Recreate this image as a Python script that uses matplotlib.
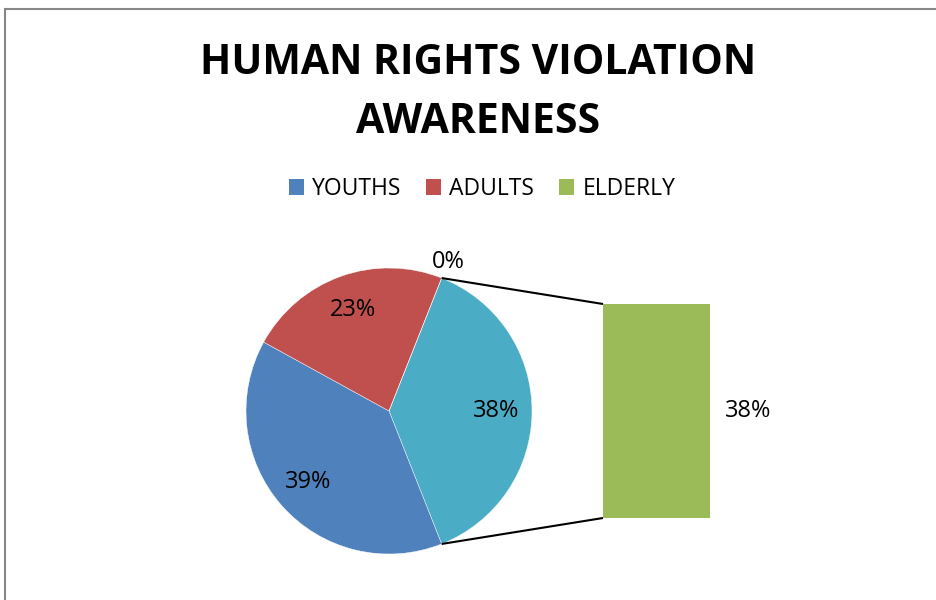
import numpy as np
import matplotlib
matplotlib.use("Agg")
import matplotlib.pyplot as plt
from matplotlib.patches import Patch, Rectangle

plt.rcParams['font.family'] = ['Open Sans', 'DejaVu Sans']

# data
title = "HUMAN RIGHTS VIOLATION\nAWARENESS"
groups = ["YOUTHS", "ADULTS", "ELDERLY"]
shares = [39, 23, 38]
colors = ["#4F81BD", "#C0504D", "#9BBB59"]
other_color = "#4BACC6"
empty_share = 0          # the blank point Excel still labels as 0%

# main pie: the "other" slice (ELDERLY pushed to the bar), youths, adults, blank
pie_vals = [shares[2], shares[0], shares[1], empty_share]
pie_cols = [other_color, colors[0], colors[1], "#ffffff"]

W, H = 936, 600
fig = plt.figure(figsize=(W / 100, H / 100), dpi=100)
ax = fig.add_axes([0, 0, 1, 1])

# chart area border (left and top visible, rest runs off the image)
fig.patches.append(Rectangle((5 / W, -0.1), 1.2, 1.1 - 9 / H, transform=fig.transFigure,
                             fill=False, edgecolor="#878787", linewidth=1.5))

cx, cy, R = 389, 189, 143
start = pie_vals[0] / sum(pie_vals) * 360 / 2
wedges, _ = ax.pie(pie_vals, colors=pie_cols, center=(cx, cy), radius=R,
                   startangle=start, counterclock=False,
                   wedgeprops=dict(edgecolor="white", linewidth=0.3))
total = sum(pie_vals)
for w, v in zip(wedges, pie_vals):
    mid = np.deg2rad((w.theta1 + w.theta2) / 2)
    r = 0.75 * R if v > 0 else 1.12 * R
    ax.text(cx + r * np.cos(mid), cy + r * np.sin(mid), f"{v / total:.0%}",
            ha="center", va="center", fontsize=17, color="black")

# bar of the split-off slice
bar_left, bar_w, bar_bottom, bar_h = 603, 107, 82, 214
scale = bar_h / shares[2]
ax.bar(bar_left + bar_w / 2, shares[2] * scale, bar_w, bottom=bar_bottom,
       color=colors[2], linewidth=0)
ax.text(748, bar_bottom + bar_h / 2, f"{shares[2] / total:.0%}",
        ha="center", va="center", fontsize=17)

# connector lines
for ang, yb in [(wedges[0].theta2, bar_bottom + bar_h), (wedges[0].theta1, bar_bottom)]:
    a = np.deg2rad(ang)
    ax.plot([cx + R * np.cos(a), bar_left], [cy + R * np.sin(a), yb],
            color="black", linewidth=1.5, solid_capstyle="butt")

ax.set_xlim(0, W)
ax.set_ylim(0, H)
ax.set_aspect("equal")
ax.axis("off")

fig.text(478 / W, 1 - 93 / H, title, ha="center", va="center", fontsize=29.5,
         fontweight="bold", linespacing=1.58)

handles = [Patch(facecolor=c, edgecolor="none") for c in colors]
fig.legend(handles, groups, loc="center", bbox_to_anchor=(482 / W, 1 - 189 / H),
           ncol=3, frameon=False, fontsize=16.5, handlelength=0.65, handleheight=0.65,
           handletextpad=0.35, columnspacing=1.1)

fig.savefig("out.png", dpi=100)
